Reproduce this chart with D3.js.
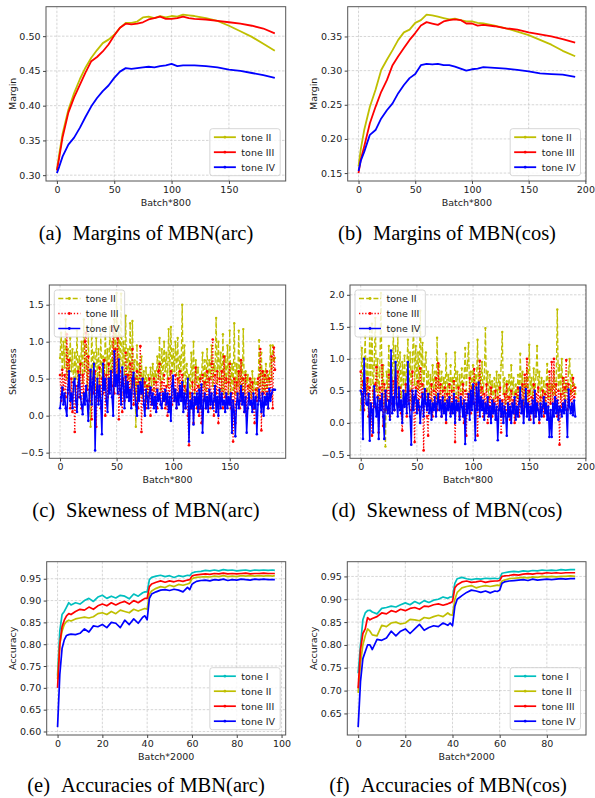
<!DOCTYPE html>
<html>
<head>
<meta charset="utf-8">
<script src="https://cdn.jsdelivr.net/npm/d3@7"></script>
<style>
  body { margin: 0; background: #fff; }
  svg text { font-family: "DejaVu Sans", sans-serif; }
</style>
</head>
<body>
<svg id="fig" width="595" height="798"></svg>
<script>
// ---------- (a) margins, arc ----------
const marginArcX = [0,2,5,10,15,20,25,30,35,40,45,50,55,60,65,70,75,80,85,90,95,100,105,110,115,120,130,140,150,160,170,180,190];
const marginArcII = [0.307,0.33,0.36,0.394,0.418,0.438,0.455,0.469,0.48,0.49,0.495,0.502,0.512,0.519,0.519,0.521,0.527,0.528,0.526,0.529,0.527,0.529,0.528,0.531,0.53,0.529,0.526,0.522,0.515,0.507,0.499,0.489,0.479];
const marginArcIII = [0.307,0.325,0.355,0.39,0.412,0.43,0.448,0.464,0.47,0.478,0.488,0.501,0.512,0.518,0.517,0.518,0.52,0.524,0.526,0.528,0.525,0.525,0.526,0.528,0.526,0.525,0.524,0.522,0.52,0.518,0.515,0.511,0.504];
const marginArcIV = [0.303,0.312,0.327,0.344,0.354,0.368,0.384,0.399,0.411,0.421,0.429,0.44,0.449,0.454,0.453,0.454,0.455,0.456,0.455,0.457,0.458,0.46,0.457,0.458,0.458,0.458,0.457,0.455,0.452,0.45,0.447,0.444,0.44];

// ---------- (b) margins, cos ----------
const marginCosX = [0,2,5,10,15,20,25,30,35,40,45,50,55,60,65,70,75,80,85,90,95,100,105,110,120,130,140,150,160,170,180,191];
const marginCosII = [0.16,0.185,0.213,0.247,0.272,0.301,0.316,0.33,0.345,0.356,0.36,0.37,0.374,0.382,0.381,0.379,0.377,0.375,0.376,0.374,0.372,0.372,0.37,0.369,0.366,0.362,0.357,0.352,0.345,0.338,0.329,0.321];
const marginCosIII = [0.15,0.17,0.189,0.223,0.247,0.269,0.286,0.308,0.321,0.333,0.345,0.355,0.366,0.371,0.369,0.367,0.372,0.374,0.375,0.374,0.369,0.369,0.366,0.367,0.365,0.362,0.36,0.356,0.353,0.35,0.346,0.341];
const marginCosIV = [0.153,0.168,0.181,0.206,0.213,0.23,0.242,0.252,0.267,0.279,0.289,0.295,0.308,0.31,0.309,0.31,0.308,0.308,0.306,0.303,0.3,0.302,0.303,0.305,0.304,0.303,0.301,0.299,0.296,0.295,0.294,0.291];

// ---------- (c) skewness, arc (one value per batch) ----------
const skewArcII = [
  0.78,1.12,0.55,1.0,0.65,1.3,0.5,0.9,0.45,1.05, 0.6,0.9,0.35,0.85,0.5,1.15,0.4,0.8,0.55,1.0,
  0.45,1.3,0.6,0.95,0.4,1.1,0.3,-0.15,1.3,0.5, 0.85,0.35,1.05,0.45,0.9,0.3,1.1,0.5,0.8,0.35,
  1.2,0.55,0.9,0.4,1.2,0.5,1.0,0.6,1.3,0.7, 1.66,0.5,1.2,0.6,1.65,0.45,1.0,0.55,1.35,0.4,
  0.9,0.5,1.25,0.35,1.28,0.4,0.75,-0.15,0.95,0.3, 0.7,0.35,0.8,0.25,0.6,0.4,0.65,0.2,0.55,0.3,
  0.65,0.4,0.7,0.35,0.6,0.45,0.8,0.5,1.05,0.35, 0.9,0.5,1.0,0.6,0.85,0.4,1.17,0.55,1.2,0.5,
  0.9,0.6,1.0,0.55,1.05,0.45,0.8,0.6,1.5,0.4, 0.95,0.3,0.7,0.45,0.55,0.25,0.85,0.4,1.0,0.3,
  0.75,0.45,0.65,0.35,0.55,0.5,0.85,0.4,0.75,0.35, 0.9,0.45,0.75,0.5,0.95,0.4,0.7,0.6,1.32,0.45,
  1.0,0.5,0.85,0.35,1.1,0.3,0.8,0.45,0.95,0.3, 1.15,0.25,0.7,0.35,1.25,0.3,0.7,0.4,1.15,0.3,
  0.75,0.35,1.17,0.3,0.6,0.45,0.55,0.3,0.5,0.25, 0.6,0.3,0.5,0.35,0.45,0.25,1.02,0.4,0.85,0.3,
  0.6,0.35,0.7,0.3,0.55,0.45,0.95,0.5,0.95,0.75, 0.78];
const skewArcIII = [
  0.55,0.2,0.62,0.35,0.55,0.25,1.1,0.3,0.75,0.1, 0.5,0.05,0.45,-0.22,0.4,0.15,0.6,0.25,0.7,0.1,
  0.55,0.3,1.0,1.12,0.35,0.8,0.2,0.6,-0.05,0.5, 0.3,0.6,-0.15,0.4,0.2,0.65,0.1,0.5,0.3,0.75,
  0.0,0.55,0.25,0.7,0.35,0.6,0.4,1.2,0.3,0.9, 0.45,1.05,-0.05,0.6,0.3,0.05,0.5,0.2,0.85,0.35,
  0.55,0.25,0.7,0.3,0.9,0.15,0.5,0.2,0.6,0.1, 0.45,0.94,-0.22,0.5,0.2,0.45,0.1,0.4,0.25,0.5,
  0.0,0.35,0.15,0.5,0.2,0.45,0.1,0.6,0.7,0.15, 0.45,0.2,0.55,0.1,0.4,0.0,0.5,0.25,0.6,0.15,
  0.45,0.2,0.55,0.1,0.5,0.25,0.6,0.3,0.55,0.2, 0.4,0.1,0.35,0.0,-0.4,0.3,0.1,0.45,-0.1,0.35,
  0.65,0.1,0.4,0.0,0.5,-0.1,0.55,0.2,0.45,0.1, 0.6,0.2,0.5,0.1,0.7,1.03,0.0,0.55,0.3,0.6,
  -0.1,0.5,0.2,0.6,0.1,0.8,0.25,0.5,0.15,0.45, 0.7,0.1,0.3,-0.35,0.5,-0.1,0.45,0.2,0.6,0.1,
  0.75,0.2,0.5,0.05,0.55,0.0,0.4,0.2,0.5,0.15, 0.45,0.1,-0.1,0.35,0.2,0.5,0.3,0.9,-0.2,0.6,
  0.3,0.55,0.2,0.6,0.1,0.5,0.25,0.8,0.1,0.92, 0.62];
const skewArcIV = [
  0.1,0.25,0.38,0.15,0.3,0.1,0.0,0.35,0.6,0.2, 0.3,0.1,0.45,0.5,0.2,0.05,0.4,0.55,0.25,0.15,
  0.02,0.3,0.15,0.4,0.2,-0.07,0.35,0.62,0.15,0.45, 0.7,-0.47,0.25,0.5,0.15,0.4,0.2,-0.25,0.7,0.35,
  0.5,0.2,0.05,0.5,0.3,0.6,0.25,0.0,0.87,0.4, 0.55,0.3,0.76,0.35,0.15,0.65,0.4,0.1,0.53,0.25,
  0.45,0.2,0.35,0.1,0.5,0.58,0.3,0.15,0.0,0.4, 0.2,0.45,0.3,0.5,0.15,0.0,0.35,0.25,0.1,0.3,
  0.38,0.15,0.3,0.1,0.25,0.05,0.35,0.2,0.3,0.15, 0.1,0.3,0.2,0.35,0.15,0.3,0.05,0.25,-0.07,0.4,
  0.54,0.2,0.35,0.1,0.3,0.15,0.4,0.2,0.45,0.05, 0.3,0.1,0.25,0.5,-0.35,0.2,0.1,0.3,-0.12,0.25,
  0.15,0.3,0.05,0.35,0.1,0.42,-0.23,0.2,0.3,0.1, 0.25,0.05,0.35,0.15,0.3,0.1,0.2,0.4,0.05,0.25,
  0.0,0.35,0.1,0.3,0.15,0.2,0.05,0.3,0.1,0.25, 0.15,0.3,-0.23,0.2,0.05,-0.28,0.15,0.3,0.1,0.2,
  0.4,0.15,0.3,0.05,0.25,-0.23,0.1,0.3,0.15,0.2, 0.05,0.3,0.1,0.25,-0.25,0.15,0.35,0.2,0.05,0.3,
  0.0,0.25,0.15,0.3,0.1,0.36,0.2,0.3,0.35,0.35, 0.35];

// ---------- (d) skewness, cos ----------
const skewCosII = [
  0.2,1.17,0.6,0.9,1.35,0.5,1.0,0.1,1.5,0.6, 1.55,0.4,0.9,1.64,0.5,1.0,0.35,0.8,2.03,0.5,
  0.9,0.3,-0.37,0.8,0.55,1.2,0.4,1.0,0.5,1.44, 0.6,1.2,0.45,1.35,0.55,1.1,0.4,0.95,0.6,1.05,
  0.45,0.9,1.3,0.5,1.1,0.35,1.0,1.48,0.6,1.2, 0.5,1.1,0.55,1.75,0.6,1.25,0.45,0.9,1.1,0.4,
  0.8,0.45,0.75,0.35,0.9,0.5,0.8,0.4,1.33,0.55, 0.9,0.45,0.8,0.5,0.7,0.35,1.08,0.45,0.75,0.4,
  0.9,0.5,0.7,0.4,1.1,0.45,0.8,0.35,0.75,0.5, 0.85,0.45,0.7,1.17,0.5,0.9,1.25,0.4,0.8,0.5,
  0.9,0.45,0.75,0.55,1.3,0.4,0.85,0.5,0.95,0.45, 0.7,1.48,0.5,0.8,0.35,0.75,0.45,0.65,0.3,0.7,
  0.4,0.8,0.35,0.75,0.5,0.9,1.42,0.45,0.7,0.3, 0.65,0.4,0.75,0.35,0.9,0.45,0.7,0.3,0.6,0.4,
  0.75,0.35,1.08,0.5,0.8,0.3,0.7,0.4,0.85,0.35, 1.22,0.45,0.7,0.35,0.85,0.4,0.75,1.2,0.5,0.8,
  0.35,0.7,0.4,0.65,0.3,0.6,0.92,0.4,0.7,0.35, 0.6,0.45,0.8,0.3,0.65,1.77,0.5,0.9,0.4,1.0,
  0.45,0.7,0.35,0.6,0.5,0.8,1.0,0.45,0.75,0.5, 0.6,0.45];
const skewCosIII = [
  0.8,0.3,0.65,0.2,0.6,0.45,0.7,0.1,0.55,0.3, -0.2,0.5,0.25,0.6,0.87,0.4,-0.15,0.55,0.3,0.9,
  -0.05,0.6,0.2,0.5,0.35,0.75,0.1,0.55,0.3,0.65, 0.2,0.7,0.4,0.8,0.25,0.55,0.15,-0.12,0.5,0.3,
  0.6,0.1,0.75,0.35,0.5,0.2,0.8,0.4,-0.3,0.55, 0.3,0.65,0.2,0.85,0.4,0.6,-0.43,0.35,0.5,0.1,
  -0.2,0.45,0.25,0.6,0.1,0.5,0.3,0.7,0.2,0.93, 0.35,0.6,0.1,0.5,0.25,0.55,0.0,0.45,0.3,0.6,
  0.15,0.5,0.25,0.65,-0.3,0.4,0.2,0.55,0.1,0.45, 0.3,0.6,0.0,0.5,-0.2,0.45,0.25,0.7,0.15,0.55,
  0.3,0.84,0.2,0.6,-0.2,0.5,0.97,0.25,0.55,0.1, 0.45,0.2,0.6,0.0,0.4,0.15,0.55,0.1,0.35,0.2,
  0.5,0.05,0.4,0.2,0.55,-0.15,0.35,0.1,0.45,0.2, 0.6,0.15,0.4,0.05,0.5,0.25,0.35,0.0,0.45,0.2,
  0.55,0.1,0.4,0.25,0.6,0.15,0.75,0.3,1.0,0.2, 0.5,0.05,0.4,0.2,0.6,0.1,0.45,0.3,0.55,0.0,
  0.4,0.2,0.5,0.1,0.45,0.25,0.6,0.15,0.8,0.3, 0.95,0.2,1.0,0.35,0.6,0.1,0.5,-0.34,0.45,0.25,
  0.7,0.3,0.55,0.98,0.2,0.6,0.35,0.5,0.25,0.7, 0.4,0.55];
const skewCosIV = [
  0.5,0.45,-0.25,1.0,0.5,0.3,0.28,0.45,-0.28,0.3, 0.2,-0.15,0.57,0.3,0.1,0.4,-0.25,0.35,0.2,0.45,
  0.1,-0.25,0.5,0.25,0.15,0.35,0.05,1.13,0.15,0.4, 0.2,0.95,0.3,0.1,0.55,0.2,0.35,0.0,0.5,0.25,
  0.45,0.15,0.95,0.3,0.1,-0.34,0.5,0.2,0.4,0.5, 0.15,0.35,0.25,0.0,0.25,0.45,0.1,0.53,0.3,0.2,
  0.45,0.15,0.35,0.05,0.3,0.2,0.4,0.1,0.3,0.45, 0.2,0.35,0.1,0.4,0.15,0.3,0.05,0.35,0.2,0.4,
  0.1,0.3,0.15,0.45,0.0,0.35,0.2,0.3,0.05,0.4, 0.25,0.1,0.35,-0.33,0.3,0.15,0.45,0.05,0.5,0.2,
  0.6,0.3,-0.27,0.55,0.2,0.63,0.1,0.4,0.2,0.35, 0.05,0.3,0.15,0.4,0.1,0.25,0.0,0.35,0.15,0.3,
  0.05,0.25,-0.27,0.2,0.35,0.1,0.3,0.0,0.25,0.15, -0.2,0.3,0.1,0.25,0.0,0.3,0.15,0.4,0.05,0.25,
  0.1,0.3,0.55,0.15,0.35,0.0,0.25,0.53,0.1,0.3, 0.05,0.25,0.15,0.35,0.0,0.5,0.1,0.3,0.2,0.05,
  0.3,0.1,0.25,0.4,0.15,0.3,0.05,0.25,-0.22,0.2, -0.22,0.3,0.1,0.4,0.15,0.35,0.05,0.25,0.2,0.1,
  0.3,0.15,0.35,0.2,-0.22,0.52,0.25,0.15,0.3,0.12, 0.35,0.1];

// ---------- (e) accuracy, arc ----------
const accArcX = [0,1,2,3,4,5,6,8,10,12,14,16,18,20,22,24,26,28,30,32,34,36,38,39,40,41,42,44,46,48,50,52,54,56,58,59,60,61,62,64,66,68,70,72,74,76,78,80,82,84,86,88,90,92,94,96,97];
const accArcI = [0.728,0.83,0.868,0.875,0.885,0.895,0.89,0.895,0.892,0.9,0.905,0.898,0.908,0.912,0.905,0.91,0.906,0.912,0.91,0.904,0.915,0.91,0.918,0.92,0.92,0.948,0.953,0.956,0.958,0.955,0.957,0.953,0.957,0.955,0.958,0.957,0.963,0.965,0.966,0.967,0.969,0.968,0.97,0.968,0.971,0.969,0.97,0.968,0.969,0.97,0.968,0.97,0.969,0.97,0.969,0.97,0.969];
const accArcII = [0.72,0.8,0.83,0.845,0.852,0.855,0.853,0.858,0.86,0.862,0.86,0.863,0.87,0.872,0.868,0.875,0.87,0.878,0.875,0.872,0.88,0.876,0.88,0.882,0.88,0.915,0.922,0.928,0.932,0.93,0.935,0.932,0.937,0.935,0.938,0.94,0.95,0.952,0.953,0.954,0.955,0.954,0.956,0.955,0.957,0.955,0.956,0.955,0.957,0.956,0.957,0.956,0.957,0.956,0.957,0.956,0.957];
const accArcIII = [0.70,0.80,0.84,0.855,0.865,0.87,0.868,0.875,0.88,0.878,0.885,0.88,0.888,0.892,0.888,0.895,0.89,0.895,0.898,0.892,0.9,0.895,0.902,0.905,0.905,0.932,0.938,0.942,0.945,0.942,0.945,0.943,0.946,0.944,0.947,0.948,0.956,0.958,0.959,0.96,0.961,0.96,0.962,0.961,0.963,0.961,0.962,0.961,0.962,0.963,0.961,0.962,0.962,0.963,0.962,0.962,0.962];
const accArcIV = [0.61,0.73,0.79,0.81,0.82,0.822,0.823,0.822,0.825,0.835,0.828,0.842,0.84,0.845,0.838,0.85,0.848,0.838,0.855,0.845,0.858,0.848,0.862,0.865,0.856,0.905,0.915,0.92,0.924,0.925,0.923,0.926,0.924,0.92,0.93,0.925,0.937,0.941,0.944,0.946,0.947,0.945,0.948,0.947,0.949,0.946,0.948,0.947,0.949,0.948,0.947,0.949,0.948,0.949,0.948,0.948,0.948];

// ---------- (f) accuracy, cos ----------
const accCosX = [0,1,2,3,4,5,6,8,10,12,14,16,18,20,22,24,26,28,30,32,34,36,38,39,40,41,42,44,46,48,50,52,54,56,58,59,60,61,62,64,66,68,70,72,74,76,78,80,82,84,86,88,90,92];
const accCosI = [0.738,0.80,0.855,0.87,0.875,0.876,0.872,0.868,0.88,0.882,0.885,0.883,0.888,0.892,0.888,0.895,0.89,0.897,0.893,0.898,0.9,0.905,0.902,0.905,0.905,0.935,0.945,0.948,0.945,0.943,0.945,0.944,0.946,0.945,0.946,0.945,0.946,0.957,0.958,0.96,0.961,0.96,0.962,0.961,0.963,0.962,0.964,0.963,0.964,0.963,0.965,0.964,0.965,0.965];
const accCosII = [0.695,0.76,0.80,0.82,0.835,0.83,0.822,0.82,0.843,0.84,0.848,0.85,0.846,0.848,0.856,0.855,0.853,0.86,0.858,0.862,0.865,0.862,0.87,0.866,0.865,0.9,0.915,0.925,0.928,0.93,0.925,0.928,0.93,0.928,0.93,0.931,0.93,0.94,0.942,0.945,0.946,0.947,0.948,0.947,0.949,0.948,0.95,0.949,0.95,0.949,0.95,0.95,0.951,0.95];
const accCosIII = [0.705,0.79,0.825,0.835,0.86,0.855,0.858,0.862,0.87,0.868,0.875,0.872,0.878,0.875,0.88,0.882,0.878,0.885,0.884,0.888,0.89,0.887,0.89,0.892,0.895,0.925,0.932,0.938,0.94,0.937,0.938,0.94,0.937,0.939,0.94,0.94,0.941,0.95,0.951,0.952,0.954,0.953,0.955,0.956,0.955,0.957,0.956,0.958,0.957,0.958,0.957,0.958,0.958,0.958];
const accCosIV = [0.62,0.72,0.77,0.785,0.80,0.80,0.79,0.812,0.81,0.815,0.83,0.82,0.83,0.835,0.825,0.835,0.845,0.832,0.838,0.842,0.84,0.848,0.843,0.848,0.842,0.885,0.90,0.908,0.915,0.92,0.918,0.915,0.918,0.914,0.918,0.917,0.92,0.935,0.938,0.94,0.941,0.942,0.943,0.941,0.944,0.942,0.943,0.944,0.943,0.944,0.945,0.944,0.945,0.945];

// ticks and labels
const marginArcYTicks = [0.30,0.35,0.40,0.45,0.50];
const marginCosYTicks = [0.15,0.20,0.25,0.30,0.35];
const skewArcYTicks = [-0.5,0.0,0.5,1.0,1.5];
const skewCosYTicks = [-0.5,0.0,0.5,1.0,1.5,2.0];
const accArcYTicks = [0.60,0.65,0.70,0.75,0.80,0.85,0.90,0.95];
const accCosYTicks = [0.65,0.70,0.75,0.80,0.85,0.90,0.95];
const batchTicks150 = [0,50,100,150];
const batchTicks200 = [0,50,100,150,200];
const accArcXTicks = [0,20,40,60,80,100];
const accCosXTicks = [0,20,40,60,80];
const toneNames = ["tone I","tone II","tone III","tone IV"];

const C = { I: "#00bfbf", II: "#bfbf00", III: "#ff0000", IV: "#0000ff" };

const svg = d3.select("#fig");

function idx(arr) { return arr.map((_, i) => i); }

function drawPanel(p) {
    const [L, T, R, B] = p.box;
    const allX = p.series.flatMap(s => s.x);
    const allY = p.series.flatMap(s => s.y);
    const [x0, x1] = d3.extent(allX);
    const [y0, y1] = d3.extent(allY);
    const px = (x1 - x0) * 0.05, py = (y1 - y0) * 0.05;
    const x = d3.scaleLinear().domain([x0 - px, x1 + px]).range([L, R]);
    const y = d3.scaleLinear().domain([y0 - py, y1 + py]).range([B, T]);

    const g = svg.append("g");

    // grid
    g.append("g").selectAll("line").data(p.xTicks.filter(d => x(d) <= R + 0.5)).join("line")
        .attr("x1", d => x(d)).attr("x2", d => x(d)).attr("y1", T).attr("y2", B)
        .attr("stroke", "#c4c4c4").attr("stroke-width", 0.7).attr("stroke-dasharray", "2.5,1.5");
    g.append("g").selectAll("line").data(p.yTicks).join("line")
        .attr("x1", L).attr("x2", R).attr("y1", d => y(d)).attr("y2", d => y(d))
        .attr("stroke", "#c4c4c4").attr("stroke-width", 0.7).attr("stroke-dasharray", "2.5,1.5");

    // series
    p.series.forEach(s => {
        const pts = s.x.map((xv, i) => [xv, s.y[i]]);
        const line = d3.line().x(d => x(d[0])).y(d => y(d[1]));
        g.append("path").datum(pts)
            .attr("d", line)
            .attr("fill", "none")
            .attr("stroke", s.color)
            .attr("stroke-width", s.width)
            .attr("stroke-linejoin", "round")
            .attr("stroke-dasharray", s.dash || null);
        if (s.marker) {
            g.append("g").selectAll("circle").data(pts).join("circle")
                .attr("cx", d => x(d[0])).attr("cy", d => y(d[1]))
                .attr("r", s.marker).attr("fill", s.color);
        }
    });

    // frame
    g.append("rect").attr("x", L).attr("y", T).attr("width", R - L).attr("height", B - T)
        .attr("fill", "none").attr("stroke", "#555").attr("stroke-width", 1);

    // axes
    const xAxis = g.append("g").attr("transform", `translate(0,${B})`)
        .call(d3.axisBottom(x).tickValues(p.xTicks).tickSize(3).tickPadding(2).tickFormat(d3.format("d")));
    const yAxis = g.append("g").attr("transform", `translate(${L},0)`)
        .call(d3.axisLeft(y).tickValues(p.yTicks).tickSize(3).tickPadding(2.5).tickFormat(d3.format(p.yFmt)));
    [xAxis, yAxis].forEach(a => {
        a.select(".domain").remove();
        a.selectAll("line").attr("stroke", "#444");
        a.selectAll("text").attr("fill", "#222").style("font-size", "9.5px")
            .style("font-family", "'DejaVu Sans', sans-serif");
    });

    // axis labels
    g.append("text").attr("x", (L + R) / 2).attr("y", B + 24.5)
        .attr("text-anchor", "middle").style("font-size", "9.5px").attr("fill", "#222")
        .text(p.xlabel);
    g.append("text").attr("transform", `translate(${p.ylabelX},${(T + B) / 2}) rotate(-90)`)
        .attr("text-anchor", "middle").attr("dominant-baseline", "central")
        .style("font-size", "9.5px").attr("fill", "#222").text(p.ylabel);

    // legend
    const n = p.series.length;
    const lg = g.append("g");
    const rowH = 15, padTop = 8.5;
    const h = padTop * 2 + rowH * (n - 1);
    const probe = lg.append("text").style("font-size", "9.5px").text("tone III");
    const tw = probe.node().getComputedTextLength();
    probe.remove();
    const w = 4 + 22 + 5.5 + tw + 6;
    let lx, ly;
    if (p.legend === "ul") { lx = L + 5; ly = T + 5; }
    else { lx = R - 5.5 - w; ly = B - 5.3 - h; }
    lg.append("rect").attr("x", lx).attr("y", ly).attr("width", w).attr("height", h)
        .attr("rx", 2.5).attr("fill", "#fff").attr("fill-opacity", 0.8)
        .attr("stroke", "#cccccc").attr("stroke-width", 0.8);
    p.series.forEach((s, i) => {
        const cy = ly + padTop + i * rowH;
        lg.append("line").attr("x1", lx + 4).attr("x2", lx + 26).attr("y1", cy).attr("y2", cy)
            .attr("stroke", s.color).attr("stroke-width", s.width)
            .attr("stroke-dasharray", s.dash || null);
        lg.append("circle").attr("cx", lx + 15).attr("cy", cy).attr("r", 1.4).attr("fill", s.color);
        lg.append("text").attr("x", lx + 31.5).attr("y", cy).attr("dominant-baseline", "central")
            .style("font-size", "9.5px").attr("fill", "#222").text(s.name);
    });

    // caption
    const cap = svg.append("text").attr("x", p.capX).attr("y", p.capY)
        .attr("text-anchor", "middle")
        .style("font-family", "'Liberation Serif', 'Times New Roman', serif")
        .style("font-size", "20.5px").attr("fill", "#000");
    cap.append("tspan").text(p.caption[0]);
    cap.append("tspan").attr("dx", 11).text(p.caption[1]);
}

function solid(name, color, xs, ys, width) {
    return { name, color, x: xs, y: ys, width: width || 1.8 };
}

const panels = [
    {
        box: [46, 6.7, 285.7, 181], xTicks: batchTicks150, yTicks: marginArcYTicks, yFmt: ".2f",
        xlabel: "Batch*800", ylabel: "Margin", ylabelX: 12, legend: "lr",
        caption: ["(a)", "Margins of MBN(arc)"], capX: 146, capY: 240,
        series: [
            solid(toneNames[1], C.II, marginArcX, marginArcII),
            solid(toneNames[2], C.III, marginArcX, marginArcIII),
            solid(toneNames[3], C.IV, marginArcX, marginArcIV)
        ]
    },
    {
        box: [347.7, 6.7, 586, 181], xTicks: batchTicks200, yTicks: marginCosYTicks, yFmt: ".2f",
        xlabel: "Batch*800", ylabel: "Margin", ylabelX: 313, legend: "lr",
        caption: ["(b)", "Margins of MBN(cos)"], capX: 447, capY: 240,
        series: [
            solid(toneNames[1], C.II, marginCosX, marginCosII),
            solid(toneNames[2], C.III, marginCosX, marginCosIII),
            solid(toneNames[3], C.IV, marginCosX, marginCosIV)
        ]
    },
    {
        box: [49.3, 285, 285.7, 458.3], xTicks: batchTicks150, yTicks: skewArcYTicks, yFmt: ".1f",
        xlabel: "Batch*800", ylabel: "Skewness", ylabelX: 12, legend: "ul",
        caption: ["(c)", "Skewness of MBN(arc)"], capX: 146, capY: 517,
        series: [
            { name: toneNames[1], color: C.II, x: idx(skewArcII), y: skewArcII, width: 1.3, dash: "5,2.2", marker: 1.2 },
            { name: toneNames[2], color: C.III, x: idx(skewArcIII), y: skewArcIII, width: 1.3, dash: "1.3,1.8", marker: 1.35 },
            { name: toneNames[3], color: C.IV, x: idx(skewArcIV), y: skewArcIV, width: 1.5, marker: 1.3 }
        ]
    },
    {
        box: [350, 285, 586, 458.3], xTicks: batchTicks200, yTicks: skewCosYTicks, yFmt: ".1f",
        xlabel: "Batch*800", ylabel: "Skewness", ylabelX: 313, legend: "ul",
        caption: ["(d)", "Skewness of MBN(cos)"], capX: 447, capY: 517,
        series: [
            { name: toneNames[1], color: C.II, x: idx(skewCosII), y: skewCosII, width: 1.3, dash: "5,2.2", marker: 1.2 },
            { name: toneNames[2], color: C.III, x: idx(skewCosIII), y: skewCosIII, width: 1.3, dash: "1.3,1.8", marker: 1.35 },
            { name: toneNames[3], color: C.IV, x: idx(skewCosIV), y: skewCosIV, width: 1.5, marker: 1.3 }
        ]
    },
    {
        box: [46.7, 561.7, 285.7, 735], xTicks: accArcXTicks, yTicks: accArcYTicks, yFmt: ".2f",
        xlabel: "Batch*2000", ylabel: "Accuracy", ylabelX: 12, legend: "lr",
        caption: ["(e)", "Accuracies of MBN(arc)"], capX: 146, capY: 792,
        series: [
            solid(toneNames[0], C.I, accArcX, accArcI, 1.7),
            solid(toneNames[1], C.II, accArcX, accArcII, 1.7),
            solid(toneNames[2], C.III, accArcX, accArcIII, 1.7),
            solid(toneNames[3], C.IV, accArcX, accArcIV, 1.7)
        ]
    },
    {
        box: [347.3, 561.7, 586, 735], xTicks: accCosXTicks, yTicks: accCosYTicks, yFmt: ".2f",
        xlabel: "Batch*2000", ylabel: "Accuracy", ylabelX: 313, legend: "lr",
        caption: ["(f)", "Accuracies of MBN(cos)"], capX: 448, capY: 792,
        series: [
            solid(toneNames[0], C.I, accCosX, accCosI, 1.7),
            solid(toneNames[1], C.II, accCosX, accCosII, 1.7),
            solid(toneNames[2], C.III, accCosX, accCosIII, 1.7),
            solid(toneNames[3], C.IV, accCosX, accCosIV, 1.7)
        ]
    }
];

panels.forEach(drawPanel);
</script>
</body>
</html>
